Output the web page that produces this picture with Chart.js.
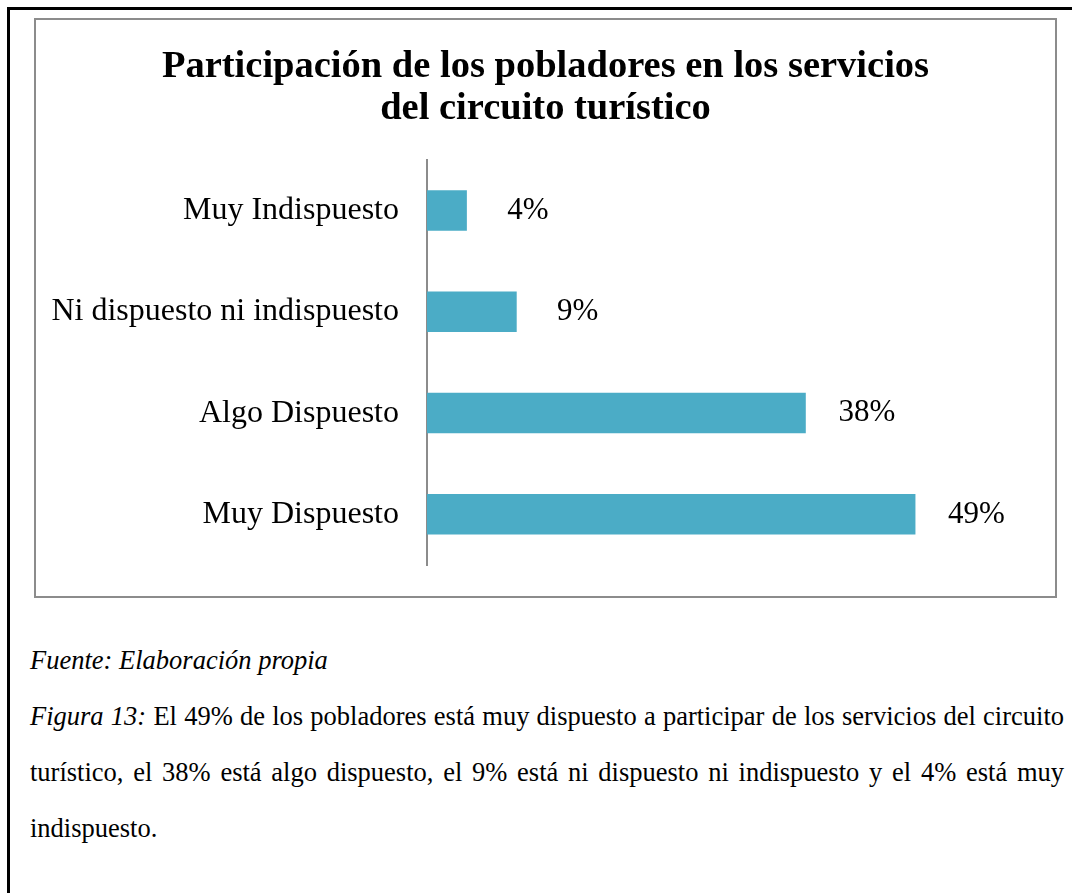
<!DOCTYPE html>
<html lang="es">
<head>
<meta charset="UTF-8">
<title>Participación de los pobladores</title>
<script src="https://cdn.jsdelivr.net/npm/chart.js"></script>
<style>
  body { margin: 0; background: #fff; font-family: "Liberation Serif", "Times New Roman", serif; }
  #page { position: relative; width: 1072px; height: 893px; overflow: hidden; }
  #frame { position: absolute; left: 7px; top: 7px; width: 1100px; height: 950px; border-left: 3px solid #000; border-top: 3px solid #000; }
  #box { position: absolute; left: 34px; top: 18px; width: 1019px; height: 576px; border: 2px solid #8c8c8c; }
  #box canvas { position: absolute; left: 0; top: 0; }
  #caption { position: absolute; left: 30px; top: 632px; width: 1034px; font-size: 26.5px; line-height: 56px; color: #000; }
  #caption p { margin: 0; text-align: justify; }
</style>
</head>
<body>
<div id="page">
  <div id="frame"></div>
  <div id="box"><canvas id="chart" width="1019" height="576"></canvas></div>
  <div id="caption">
    <p><i>Fuente: Elaboración propia</i></p>
    <p><i>Figura 13:</i> El 49% de los pobladores está muy dispuesto a participar de los servicios del circuito turístico, el 38% está algo dispuesto, el 9% está ni dispuesto ni indispuesto y el 4% está muy indispuesto.</p>
  </div>
</div>

<script>
    const categories = ['Muy Indispuesto', 'Ni dispuesto ni indispuesto', 'Algo Dispuesto', 'Muy Dispuesto'];
    const percents = [4, 9, 38, 49];
    const titleLines = ['Participación de los pobladores en los servicios', 'del circuito turístico'];

    // draws the "49%" style labels to the right of each bar
    const valueLabels = {
        id: 'valueLabels',
        afterDatasetsDraw(chart) {
            const ctx = chart.ctx;
            const meta = chart.getDatasetMeta(0);
            ctx.save();
            ctx.font = '31px "Liberation Serif", serif';
            ctx.fillStyle = '#000';
            ctx.textAlign = 'center';
            ctx.textBaseline = 'middle';
            meta.data.forEach((bar, i) => {
                ctx.fillText(percents[i] + '%', bar.x + 61, bar.y);
            });
            ctx.restore();
        }
    };

    const ctx = document.getElementById('chart').getContext('2d');
    new Chart(ctx, {
        type: 'bar',
        data: {
            labels: categories,
            datasets: [{
                data: percents,
                backgroundColor: '#4bacc6',
                borderWidth: 0,
                barPercentage: 0.4,
                categoryPercentage: 1
            }]
        },
        plugins: [valueLabels],
        options: {
            indexAxis: 'y',
            responsive: false,
            animation: false,
            layout: { padding: { left: 0, right: 0, top: 0, bottom: 31 } },
            plugins: {
                legend: { display: false },
                tooltip: { enabled: false },
                title: {
                    display: true,
                    text: titleLines,
                    color: '#000',
                    font: { family: '"Liberation Serif", serif', size: 38.5, weight: 'bold', lineHeight: 1.09 },
                    padding: { top: 26, bottom: 30 }
                }
            },
            scales: {
                x: { display: false, min: 0, max: 63 },
                y: {
                    afterFit(scale) {
                        scale.width = 391;
                        scale.paddingTop = 0;
                        scale.paddingBottom = 0;
                    },
                    grid: { drawOnChartArea: false, drawTicks: false },
                    border: { display: true, color: '#8c8c8c', width: 2 },
                    ticks: {
                        color: '#000',
                        padding: 28,
                        font: { family: '"Liberation Serif", serif', size: 32 }
                    }
                }
            }
        }
    });
</script>
</body>
</html>
